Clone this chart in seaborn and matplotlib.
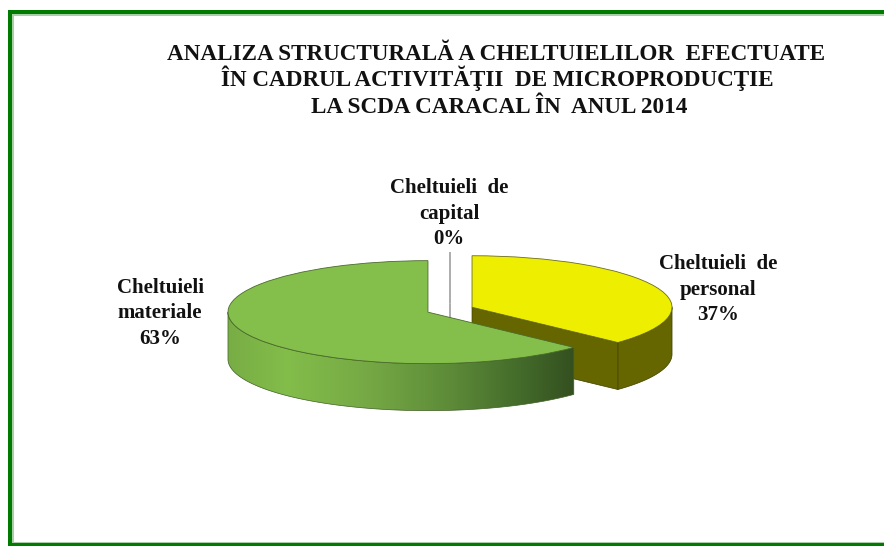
import numpy as np
import matplotlib
matplotlib.use('Agg')
import matplotlib.pyplot as plt
import seaborn as sns
from matplotlib.colors import LinearSegmentedColormap
from matplotlib.patches import Polygon, Rectangle

title_lines = ['ANALIZA STRUCTURALĂ A CHELTUIELILOR  EFECTUATE',
               'ÎN CADRUL ACTIVITĂŢII  DE MICROPRODUCŢIE',
               'LA SCDA CARACAL ÎN  ANUL 2014']
categories = [['Cheltuieli  de', 'personal'], ['Cheltuieli', 'materiale'], ['Cheltuieli  de', 'capital']]
values = [37, 63, 0]
colors = ['#EEEE00', '#85BF4B', '#A6A6A6']
wall_color = '#666600'
label_xy = [(718, 269), (160, 293), (449, 193)]
title_xy = [(496.5, 59.5), (497, 86), (499.5, 113)]

W, H = 884, 546
# pixels per pie unit, the flat pie is squashed through the y scale
px_x, px_y = 200, 51.5
center_px = (450, 309.7)
depth = 47 / px_y

sns.set_theme(style='white')
plt.rcParams['font.family'] = ['Liberation Serif', 'DejaVu Serif']

fig = plt.figure(figsize=(W / 100, H / 100), dpi=100, facecolor='white')
ax = fig.add_axes([0, 0, 1, 1])

wedges, _ = ax.pie(values, colors=colors, explode=[0.12, 0.12, 0.12], startangle=90,
                   counterclock=False, radius=1, normalize=True)


def arc(w, a, b):
    t = np.radians(np.linspace(a, b, 120))
    return np.column_stack([w.center[0] + w.r * np.cos(t), w.center[1] + w.r * np.sin(t)])


def outer_wall(w):
    # only the front half of the rim can be seen
    pts = arc(w, max(w.theta1, -180), min(w.theta2, 0))
    return np.vstack([pts, pts[::-1] - [0, depth]])


yellow, green, zero = wedges
edge = '#3c3c00'

# yellow slice: rim and the cut face looking to the front
ax.add_patch(Polygon(outer_wall(yellow), fc=wall_color, ec=edge, lw=0.5, zorder=1))
end = arc(yellow, yellow.theta1, yellow.theta1)[0]
c = np.array(yellow.center)
ax.add_patch(Polygon([c, end, end - [0, depth], c - [0, depth]], fc=wall_color, ec=edge, lw=0.5, zorder=1))
yellow.set(zorder=2, edgecolor='#6b6b20', linewidth=0.6)

# the empty slice is only a line
zero.set(zorder=1.5, edgecolor=colors[2], linewidth=1.3)
ax.plot([zero.center[0]] * 2, [zero.center[1], zero.center[1] - depth], color=colors[2], lw=1.3, zorder=1.5)

# green slice: rim with the light running out to the right
wall = outer_wall(green)
shade = LinearSegmentedColormap.from_list('shade', [(0, '#78AD45'), (0.17, '#83BD4A'), (0.4, '#76A945'),
                                                    (0.65, '#5C8A38'), (0.85, '#436A2A'), (1, '#345020')])
im = ax.imshow(np.linspace(0, 1, 256).reshape(1, -1), cmap=shade, aspect='auto', zorder=3,
               extent=[wall[:, 0].min(), wall[:, 0].max(), wall[:, 1].min(), wall[:, 1].max()])
im.set_clip_path(Polygon(wall, transform=ax.transData))
ax.add_patch(Polygon(wall, fill=False, ec='#3f5f26', lw=0.5, zorder=3.5))
green.set(zorder=4, edgecolor='#4a6a2a', linewidth=0.6)

ax.set_aspect('auto')
ax.set_box_aspect(None)
ax.set_position([0, 0, 1, 1])
ax.set_xlim(-center_px[0] / px_x, (W - center_px[0]) / px_x)
ax.set_ylim(-(H - center_px[1]) / px_y, center_px[1] / px_y)
ax.axis('off')

for line, (x, y) in zip(title_lines, title_xy):
    fig.text(x / W, 1 - y / H, line, ha='center', va='baseline', fontsize=16.7, fontweight='bold',
             color='#111111')

# one text per line, diacritics would make the line pitch uneven otherwise
for name, v, (x, y) in zip(categories, values, label_xy):
    for i, line in enumerate(name + [f'{v}%']):
        fig.text(x / W, 1 - (y + i * 25.5) / H, line, ha='center', va='baseline', fontsize=15,
                 fontweight='bold', color='#111111')


# frame of the slide: left, top and bottom only
def bar(x, y, w, h, color):
    fig.add_artist(Rectangle((x / W, 1 - (y + h) / H), w / W, h / H, transform=fig.transFigure,
                             fc=color, ec='none'))


bar(8, 10, W - 8, 4, '#007A00')
bar(8, 10, 4, H - 10, '#007A00')
bar(12, 14, W - 12, 2, '#A9CFA9')
bar(12, 14, 2, H - 14, '#A9CFA9')
bar(8, 543, W - 8, 2.5, '#007A00')
bar(12, 541.5, W - 12, 1.5, '#A9CFA9')

fig.savefig('out.png', dpi=100, facecolor='white')
